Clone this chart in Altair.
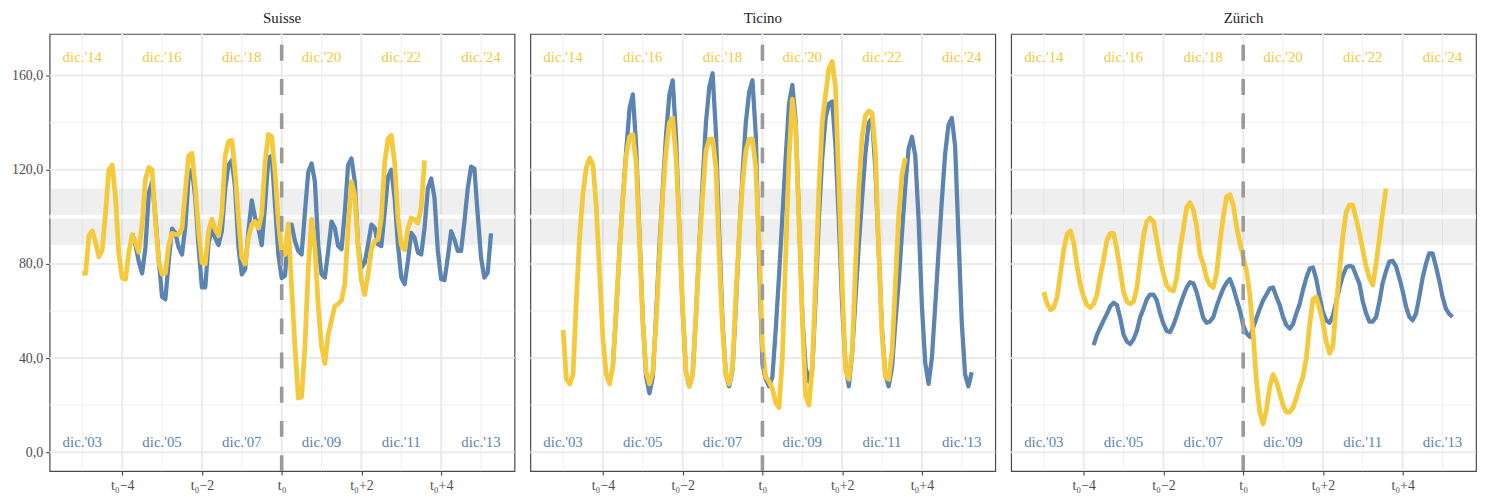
import altair as alt
import pandas as pd

BLUE = "#5b84b1"
YELLOW = "#f5c93c"
FONT = "Liberation Serif"

# months relative to t0 (yellow: t0 = dic. 2019, blue: t0 = dic. 2008)
yellow_start = -60
blue_start = -45

regions = ["Suisse", "Ticino", "Zürich"]

suisse_yellow = [
    76, 76, 92, 94, 89, 83, 86, 102, 120, 122, 108, 84,
    74, 73.5, 85, 92.5, 89, 85, 97, 116, 121, 120, 98, 81,
    75.6, 76, 88, 93, 92.5, 92.5, 95, 111, 126, 127, 113, 94,
    80.6, 80, 94, 99, 94.6, 92, 102, 126, 132, 132.5, 119, 99.5,
    82.7, 80, 91, 96.7, 98, 95.3, 101, 123, 135, 134, 119, 98,
    85.5, 84, 97, 70, 45, 23, 23.5, 45, 78, 99, 87, 62,
    45, 37.7, 50, 56, 62, 63, 64.4, 71.4, 95, 115, 109, 87,
    73, 67, 75.6, 86, 89.7, 90.4, 99.5, 123, 133, 134.6, 123, 99.5,
    88, 86, 95, 99.5, 98.8, 97.4, 104, 124,
]
suisse_blue = [
    93, 88, 81, 76, 87, 110, 115, 100, 82,
    66, 65, 81, 95, 93, 87, 84, 96, 117, 120, 108, 87,
    70, 70, 89, 95, 91, 88, 94, 112, 122, 124, 112, 87,
    75.6, 77.7, 94, 107, 99.5, 95, 88, 105, 125, 126, 105, 84,
    74, 75, 93, 96.7, 89.7, 85.5, 84, 102, 119, 122.7, 115, 88,
    75.6, 74.2, 85.5, 98, 95.3, 87.6, 86.2, 102, 122, 124.8, 115, 88,
    78.4, 80.6, 88.3, 96.7, 95.3, 88.3, 87.6, 102, 117, 120, 108, 88,
    74.2, 71.4, 81.3, 93.2, 91.1, 84.8, 84, 95.3, 112, 116.3, 108, 85.5,
    73.5, 73.1, 82.7, 93.9, 90.4, 85.5, 85.5, 98, 112, 121.3, 120.5, 101,
    82.7, 74.2, 76.3, 93,
]
ticino_yellow = [
    52, 31, 29, 33, 65, 92, 110, 121, 125, 122, 104, 76,
    48, 33, 29, 37, 61, 86, 107, 126, 134, 135, 123, 89,
    55, 34, 29, 34, 55, 83, 109, 128, 140, 142, 125, 95,
    61, 34, 28, 33, 58, 86, 109, 128, 133, 133, 121, 83,
    52, 33, 29, 36, 66, 92, 114, 128, 133, 133, 121, 88,
    45, 32, 30, 27, 21, 19, 40, 84, 125, 150, 138, 99,
    57, 24, 20, 36, 72, 112, 140, 152, 163, 166, 155, 114,
    72, 35, 31, 43, 78, 112, 134, 143, 145, 144, 128, 86,
    50, 32, 31, 43, 71, 100, 118, 125,
]
ticino_blue = [
    37, 60, 86, 108, 128, 146, 152, 130, 92,
    56, 32, 25, 32, 58, 88, 112, 135, 152, 158, 134, 95,
    60, 34, 28, 33, 58, 88, 115, 140, 155, 161, 136, 92,
    55, 33, 28, 35, 62, 92, 118, 140, 153, 158, 135, 80,
    38, 31, 28, 32, 52, 75, 100, 125, 148, 156, 141, 100,
    58, 36, 30, 35, 65, 100, 125, 142, 148, 149, 130, 98,
    62, 37, 28, 42, 65, 88, 108, 127, 140, 142, 120, 85,
    52, 33, 28, 36, 55, 72, 93, 113, 129, 134, 126, 99,
    62, 38, 29, 40, 62, 85, 107, 127, 139, 142, 130, 92,
    55, 33, 28, 34,
]
zurich_yellow = [
    68, 63, 60.5, 61.5, 66, 76, 86, 92.5, 94, 89, 79, 71,
    66, 62.5, 61.5, 63, 67, 75, 82, 90, 93, 93, 86, 77,
    68, 64, 63, 64, 70, 81, 92, 98, 99.5, 98, 90, 82,
    76, 71, 69, 68.5, 74, 86, 95, 104, 106, 103, 96, 84,
    80, 74, 71, 70, 76, 89, 100, 108.5, 109.4, 105, 96, 89,
    83, 77, 67, 50, 30, 17, 12, 18, 28, 33, 30, 25,
    20, 17, 17, 19, 23, 28, 32, 40, 54, 65, 66, 61,
    55, 47, 42, 45, 62, 77, 92, 102, 105, 105, 99, 93,
    86, 79, 74, 71, 80, 91, 102, 112,
]
zurich_blue = [
    45.5, 50, 53, 56, 58.8, 62, 63.5, 62.5, 57,
    50, 47, 46, 48, 51.5, 57.4, 61, 65, 67, 67, 64.5, 59,
    54.5, 51.5, 51, 54, 58, 62.5, 66.5, 70, 72.2, 71.8, 68, 62.5,
    57, 55, 55.5, 57.4, 62, 66, 69.5, 72, 73.6, 70, 65, 60.3,
    54, 50.5, 49, 53, 57, 61, 64.5, 67, 69.5, 70, 66, 62.5,
    57.5, 54, 52.5, 54.5, 59, 63, 69, 74, 78, 78.5, 73.5, 66,
    59.5, 56, 55, 58, 64, 70, 75, 78.5, 79.2, 78.7, 75, 71.5,
    64, 59, 55.5, 55.5, 57.4, 64, 72, 77, 81, 81.3, 79, 74,
    68.5, 62, 57.5, 56, 58.8, 66, 74, 80, 84.5, 84.5, 79, 73,
    66, 61, 58.8, 57.5,
]

label_years = [-5, -3, -1, 1, 3, 5]
yellow_labels = ["dic.'14", "dic.'16", "dic.'18", "dic.'20", "dic.'22", "dic.'24"]
blue_labels = ["dic.'03", "dic.'05", "dic.'07", "dic.'09", "dic.'11", "dic.'13"]

x_major = [-4, -2, 0, 2, 4]
x_minor = [-5, -3, -1, 1, 3, 5]
y_major = [0, 40, 80, 120, 160]
y_minor = [20, 60, 100, 140]

series = {
    "Suisse": (suisse_yellow, suisse_blue),
    "Ticino": (ticino_yellow, ticino_blue),
    "Zürich": (zurich_yellow, zurich_blue),
}

W, H = 469, 441
XDOM = [-5.82, 5.84]
YDOM = [-8, 177.7]


def to_df(values, start):
    return pd.DataFrame({"t": [(start + i) / 12 for i in range(len(values))], "v": values})


def panel(name, first):
    yv, bv = series[name]
    xs = alt.Scale(domain=XDOM, nice=False, zero=False)
    ys = alt.Scale(domain=YDOM, nice=False, zero=False)
    xaxis = alt.Axis(
        values=x_major, grid=False, domain=False, ticks=True, tickSize=4,
        tickColor="#333333", labelFont=FONT, labelFontSize=14, labelColor="#4d4d4d",
        labelPadding=4, title=None,
        labelExpr="datum.value == 0 ? 't₀' : (datum.value < 0 ? 't₀−' + abs(datum.value) : 't₀+' + datum.value)",
    )
    if first:
        yaxis = alt.Axis(
            values=y_major, grid=False, domain=False, ticks=True, tickSize=4,
            tickColor="#333333", labelFont=FONT, labelFontSize=14, labelColor="#4d4d4d",
            labelPadding=3, title=None, minExtent=41, maxExtent=41,
            labelExpr="replace(format(datum.value, '.1f'), '.', ',')",
        )
    else:
        yaxis = None

    base_x = alt.X("t:Q", scale=xs, axis=xaxis)
    base_y = alt.Y("v:Q", scale=ys, axis=yaxis)

    vgrid_minor = alt.Chart(pd.DataFrame({"t": x_minor})).mark_rule(
        color="#efefef", strokeWidth=1).encode(x=base_x)
    vgrid_major = alt.Chart(pd.DataFrame({"t": x_major})).mark_rule(
        color="#ebebeb", strokeWidth=2).encode(x=base_x)
    hgrid_minor = alt.Chart(pd.DataFrame({"v": y_minor})).mark_rule(
        color="#efefef", strokeWidth=1).encode(y=base_y)
    hgrid_major = alt.Chart(pd.DataFrame({"v": y_major})).mark_rule(
        color="#ebebeb", strokeWidth=2).encode(y=base_y)

    band = alt.Chart(pd.DataFrame({"v": [88], "v2": [112]})).mark_rect(
        color="#b8b8b8", opacity=0.22).encode(
        x=alt.value(0), x2=alt.value(W), y=base_y, y2="v2:Q")
    hund = alt.Chart(pd.DataFrame({"v": [100]})).mark_rule(
        color="white", strokeWidth=4).encode(y=base_y)

    blue = alt.Chart(to_df(bv, blue_start)).mark_line(
        color=BLUE, strokeWidth=4.3, strokeJoin="round").encode(x=base_x, y=base_y)
    yellow = alt.Chart(to_df(yv, yellow_start)).mark_line(
        color=YELLOW, strokeWidth=4.8, strokeJoin="round").encode(x=base_x, y=base_y)

    t0 = alt.Chart(pd.DataFrame({"t": [0]})).mark_rule(
        color="#9a9a9a", strokeWidth=3.6, strokeDash=[16, 18.5]).encode(
        x=base_x, y=alt.value(H), y2=alt.value(0))

    lab_top = alt.Chart(pd.DataFrame({"t": label_years, "lab": yellow_labels})).mark_text(
        font=FONT, fontSize=15, color=YELLOW, baseline="middle", align="center").encode(
        x=base_x, y=alt.datum(168, scale=ys), text="lab:N")
    lab_bot = alt.Chart(pd.DataFrame({"t": label_years, "lab": blue_labels})).mark_text(
        font=FONT, fontSize=15, color=BLUE, baseline="middle", align="center").encode(
        x=base_x, y=alt.datum(4.2, scale=ys), text="lab:N")

    return alt.layer(
        vgrid_minor, vgrid_major, hgrid_minor, hgrid_major, band, hund,
        blue, yellow, t0, lab_top, lab_bot,
    ).properties(
        width=W, height=H,
        title=alt.TitleParams(name, font=FONT, fontSize=15, color="#222222",
                              fontWeight="normal", offset=6, anchor="middle"),
    )


chart = alt.hconcat(
    *[panel(r, i == 0) for i, r in enumerate(regions)], spacing=10
).properties(padding=0).configure_view(stroke="#4a4a4a", strokeWidth=1.2)

chart.save("out.html", embed_options={"renderer": "svg", "actions": False})
